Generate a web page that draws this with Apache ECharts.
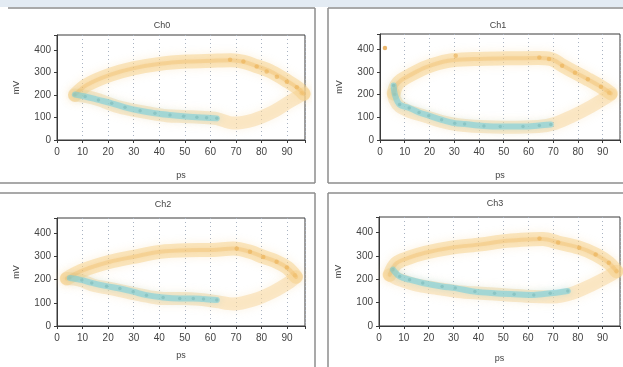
<!DOCTYPE html>
<html>
<head>
<meta charset="utf-8">
<script src="https://cdn.jsdelivr.net/npm/echarts@6/dist/echarts.min.js"></script>
<style>
  html, body { margin: 0; padding: 0; background: #fff; }
  #chart { width: 623px; height: 367px; }
</style>
</head>
<body>
<div id="chart"></div>
<script>
// channel names and axis ticks
var channels = ['Ch0', 'Ch1', 'Ch2', 'Ch3'];
var xTicks = [0, 10, 20, 30, 40, 50, 60, 70, 80, 90];
var yTicks = [0, 100, 200, 300, 400];

// upper branch of each eye (ps, mV)
var ch0Upper = [[7,200],[11.6,244],[20.7,289],[29.8,318],[40.3,338],[50.8,348],[61,352],[68,354],[73,347],[78,328],[84,302],[90,262],[94.5,228],[96.5,205]];
var ch1Upper = [[5.5,205],[6.6,240],[8.5,262],[11.8,283],[18.4,319],[27.6,348],[38,356],[51,359],[64,360],[69,356],[74,326],[79,296],[84,267],[89.3,234],[93.3,205]];
var ch2Upper = [[3.8,205],[10.3,241],[20.7,277],[29.8,298],[40.3,320],[50.8,327],[61,328],[69,334],[75.5,320],[80.7,298],[86,277],[90,252],[93.5,212]];
var ch3Upper = [[4.3,219],[7,268],[12.1,292],[18.6,313],[29.2,335],[41,349],[51.6,364],[62,371],[66,372],[72,357],[80.6,335],[87.2,306],[92.5,270],[95.6,234]];

// lower branch of each eye
var ch0Lower = [[7,200],[11.6,193],[16.5,178],[22.9,151],[29.8,133],[36.4,119],[42.9,108],[49.4,104],[55.9,101],[62.5,95],[69,75],[76.8,89],[84.6,126],[91,170],[96.5,205]];
var ch1Lower = [[5.5,205],[6,178],[7.9,148],[11.8,126],[18.4,104],[24.9,81],[31.5,67],[40.7,59],[51,56],[64,59],[71,74],[77.5,104],[85.4,148],[93.3,200]];
var ch2Lower = [[3.8,205],[9,198],[14.2,176],[20.7,162],[29.8,140],[36.4,126],[41.6,119],[49.4,119],[55.9,115],[62.5,105],[69,95],[76.8,112],[84.6,148],[91.2,191],[93.5,212]];
var ch3Lower = [[4.3,219],[8.3,198],[14.9,176],[22.7,162],[31.9,147],[41,140],[51.6,133],[62,126],[70,124],[77.8,140],[85.7,176],[92.3,212],[95.6,234]];

// cyan sample dots on the falling edge
var ch0Cyan = [[7,202],[11,193],[16.2,178],[21.4,163],[26.6,145],[32.5,130],[38.3,119],[44.2,111],[49.5,105],[54.7,101],[58.5,99],[62.5,96]];
var ch1Cyan = [[5.5,240],[6,200],[7.9,156],[11.8,141],[15.8,121],[19.7,107],[24.9,89],[30.2,74],[34.2,70],[42,62],[48.6,59],[57.8,59],[64.4,64],[69,68]];
var ch2Cyan = [[5,207],[9.7,198],[13.6,186],[19.4,172],[24.6,162],[29.8,148],[35,133],[41.5,123],[48,119],[53.3,119],[57.3,116],[62.5,112]];
var ch3Cyan = [[5.6,241],[8.3,212],[12.3,198],[17.6,184],[25.4,169],[30.7,162],[38.6,147],[46.5,140],[54.4,136],[62.3,133],[68.9,140],[76,150]];

// dark orange samples on the upper branch
var ch0Hot = [[67.7,356],[72.9,348],[78.1,326],[82,304],[86,281],[89.9,259],[93.8,234],[95.7,207]];
var ch1Hot = [[2,405],[30.6,370],[64.4,363],[68.3,356],[73.6,326],[78.8,296],[84,267],[89.3,234],[92.6,207]];
var ch2Hot = [[70.3,334],[75.5,320],[80.7,298],[85.9,277],[89.9,252],[93.1,219]];
var ch3Hot = [[64.6,374],[72.1,357],[80.6,335],[87.2,306],[92.5,270],[95.6,234]];

var uppers = [ch0Upper, ch1Upper, ch2Upper, ch3Upper];
var lowers = [ch0Lower, ch1Lower, ch2Lower, ch3Lower];
var cyans = [ch0Cyan, ch1Cyan, ch2Cyan, ch3Cyan];
var hots = [ch0Hot, ch1Hot, ch2Hot, ch3Hot];

var xMax = 97, yMax = 466;

var grids = [
  { left: 57, top: 35, width: 248, height: 105 },
  { left: 380, top: 34, width: 248, height: 106 },
  { left: 57, top: 218, width: 248, height: 108 },
  { left: 379, top: 217, width: 248, height: 109 }
];
var xNameGap = [31, 31, 25, 28];
var titlePos = [[157, 16], [493, 16], [158, 195], [490, 194]];

var font = 'Liberation Sans';
var textCol = '#444';

var xAxes = [], yAxes = [], series = [], titles = [];

channels.forEach(function (name, i) {
  grids[i].show = true;
  grids[i].borderColor = '#3a3a3a';
  grids[i].borderWidth = 1;
  grids[i].backgroundColor = '#fff';

  titles.push({
    text: name, left: titlePos[i][0], top: titlePos[i][1], textAlign: 'center',
    textStyle: { fontFamily: font, fontSize: 9, fontWeight: 'normal', color: textCol }
  });

  xAxes.push({
    gridIndex: i, type: 'value', min: 0, max: xMax, interval: 10,
    name: 'ps', nameLocation: 'middle', nameGap: xNameGap[i],
    nameTextStyle: { fontFamily: font, fontSize: 9, color: textCol },
    axisLine: { lineStyle: { color: '#3a3a3a' } },
    axisTick: { length: 3, lineStyle: { color: '#3a3a3a' } },
    axisLabel: {
      fontFamily: font, fontSize: 10, color: textCol, margin: 7,
      formatter: function (v) { return xTicks.indexOf(v) >= 0 ? String(v) : ''; }
    },
    splitLine: { show: true, lineStyle: { color: '#a9b3c2', type: [1, 3], width: 1 } }
  });

  yAxes.push({
    gridIndex: i, type: 'value', min: 0, max: yMax, interval: 100,
    name: 'mV', nameLocation: 'middle', nameGap: 36, nameRotate: 90,
    nameTextStyle: { fontFamily: font, fontSize: 9, color: textCol },
    axisLine: { lineStyle: { color: '#3a3a3a' } },
    axisTick: { length: 3, lineStyle: { color: '#3a3a3a' } },
    axisLabel: {
      fontFamily: font, fontSize: 10, color: textCol, margin: 6,
      formatter: function (v) { return yTicks.indexOf(v) >= 0 ? String(v) : ''; }
    },
    splitLine: { show: false }
  });

  var band = function (data, color, width, glow) {
    return {
      type: 'line', xAxisIndex: i, yAxisIndex: i, data: data, smooth: 0.35,
      showSymbol: false, silent: true,
      lineStyle: { color: color, width: width, cap: 'round', join: 'round', shadowBlur: glow, shadowColor: color }
    };
  };

  series.push(band(lowers[i], 'rgba(247,214,155,0.5)', 13, 9));
  series.push(band(uppers[i], 'rgba(246,208,135,0.5)', 14, 9));
  series.push(band(uppers[i], 'rgba(236,176,80,0.28)', 4, 3));
  series.push(band(cyans[i], 'rgba(100,204,226,0.5)', 6, 6));
  series.push({
    type: 'scatter', xAxisIndex: i, yAxisIndex: i, data: hots[i], symbolSize: 4.5, silent: true,
    itemStyle: { color: '#e0962e', opacity: 0.7 }
  });
  series.push({
    type: 'scatter', xAxisIndex: i, yAxisIndex: i, data: cyans[i], symbolSize: 3.5, silent: true,
    itemStyle: { color: '#2f6b72', opacity: 0.7 }
  });
});

var frame = { stroke: '#8c8c8c', lineWidth: 1.5 };
var graphic = [
  { type: 'rect', shape: { x: 0, y: 0, width: 623, height: 7 }, style: { fill: '#e3ebf3' }, z: -1 },
  { type: 'line', shape: { x1: 8, y1: 8, x2: 315, y2: 8 }, style: frame },
  { type: 'line', shape: { x1: 315, y1: 8, x2: 315, y2: 183 }, style: frame },
  { type: 'line', shape: { x1: 0, y1: 183, x2: 315, y2: 183 }, style: frame },
  { type: 'line', shape: { x1: 328, y1: 8, x2: 623, y2: 8 }, style: frame },
  { type: 'line', shape: { x1: 328, y1: 8, x2: 328, y2: 183 }, style: frame },
  { type: 'line', shape: { x1: 328, y1: 183, x2: 623, y2: 183 }, style: frame },
  { type: 'line', shape: { x1: 0, y1: 193, x2: 315, y2: 193 }, style: frame },
  { type: 'line', shape: { x1: 315, y1: 193, x2: 315, y2: 367 }, style: frame },
  { type: 'line', shape: { x1: 328, y1: 193, x2: 623, y2: 193 }, style: frame },
  { type: 'line', shape: { x1: 328, y1: 193, x2: 328, y2: 367 }, style: frame }
];

var chart = echarts.init(document.getElementById('chart'), null, { renderer: 'canvas' });
chart.setOption({
  animation: false,
  backgroundColor: '#fff',
  title: titles,
  grid: grids,
  xAxis: xAxes,
  yAxis: yAxes,
  series: series,
  graphic: graphic
});
</script>
</body>
</html>
